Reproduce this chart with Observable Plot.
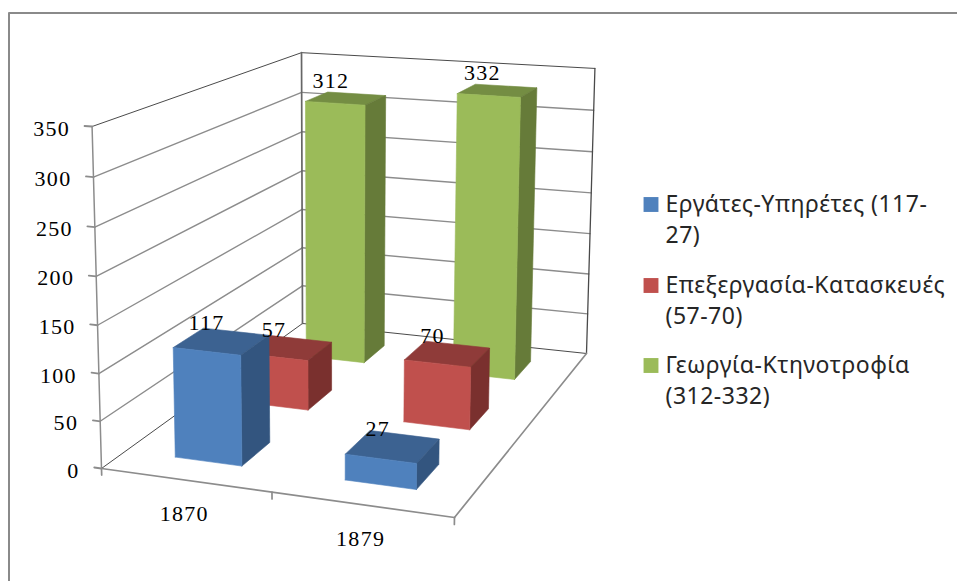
<!DOCTYPE html>
<html lang="el">
<head>
<meta charset="utf-8">
<script src="https://cdn.jsdelivr.net/npm/d3@7"></script>
<script src="https://cdn.jsdelivr.net/npm/@observablehq/plot@0.6"></script>
<style>
html,body{margin:0;padding:0;background:#fff;overflow:hidden}
svg{display:block}
.num text{letter-spacing:1.3px}
.leg text{letter-spacing:.5px}
</style>
</head>
<body>
<div id="chart"></div>
<script>
// --- data ---
const categories = ["1870", "1879"];
const seriesNames = ["Εργάτες-Υπηρέτες (117-27)", "Επεξεργασία-Κατασκευές (57-70)", "Γεωργία-Κτηνοτροφία (312-332)"];
const workers = [117, 27];
const crafts = [57, 70];
const farming = [312, 332];
const valueTicks = [0, 50, 100, 150, 200, 250, 300, 350];
const legendLines = [["Εργάτες-Υπηρέτες (117-", "27)"], ["Επεξεργασία-Κατασκευές", "(57-70)"], ["Γεωργία-Κτηνοτροφία", "(312-332)"]];

// --- styles ---
const frontColors = ["#4f81bd", "#c0504d", "#9bbb59"];
const topColors = ["#3c6291", "#8f3b39", "#748d43"];
const sideColors = ["#33557f", "#7a302e", "#667b39"];
const maxValue = 350;
const gap = 1.5; // gap width / gap depth of the 3-D column chart

// --- camera: projects (u along categories, v in depth, h in height) to the page ---
const cam = {a:323.1,b:283.6,k:-13,c:101, d:15,e:-56.7,n:-346.9,f:468, g:-0.0658,i:0.2735,m:-0.039};
function project(u, v, h) {
  const w = cam.g*u + cam.i*v + cam.m*h + 1;
  return {x:(cam.a*u + cam.b*v + cam.k*h + cam.c)/w, y:(cam.d*u + cam.e*v + cam.n*h + cam.f)/w};
}
const values = [workers, crafts, farming];
const nC = categories.length, nS = seriesNames.length;
const uRange = i => {const s = 1/nC, b = s/(1+gap), c = (i+.5)*s; return [c-b/2, c+b/2];};
const vRange = j => {const s = 1/nS, b = s/(1+gap), c = (j+.5)*s; return [c-b/2, c+b/2];};

const poly = (pts, fill) => Plot.line([...pts, pts[0]], {x:"x", y:"y", fill, stroke:fill, strokeWidth:0.6});
const seg = (p, q, stroke, strokeWidth) => Plot.line([p, q], {x:"x", y:"y", stroke, strokeWidth});

const walls = [];
const gridColor = "#8c8c8c", edgeColor = "#4a4a4a";
for (const t of valueTicks) {
  const h = t/maxValue;
  const isTop = t === maxValue, isBase = t === 0;
  walls.push(seg(project(0,0,h), project(0,1,h), isTop||isBase ? edgeColor : gridColor, isTop||isBase ? 1 : 1.4));
  walls.push(seg(project(0,1,h), project(1,1,h), isTop||isBase ? edgeColor : gridColor, isTop||isBase ? 1 : 1.4));
  walls.push(seg(project(-0.022,0,h), project(0,0,h), gridColor, 1.8));
}
walls.push(seg(project(0,0,0), project(0,0,1), gridColor, 1.5));
walls.push(seg(project(0,1,0), project(0,1,1), "#666", 1.7));
walls.push(seg(project(1,1,0), project(1,1,1), edgeColor, 1.3));
walls.push(seg(project(0,0,0), project(1,0,0), gridColor, 1.7));
walls.push(seg(project(1,0,0), project(1,1,0), gridColor, 1.7));
for (const u of [0, .5, 1]) walls.push(seg(project(u,0,0), project(u,0,-0.02), gridColor, 1.7));

const bars = [];
for (let j = nS-1; j >= 0; j--) {
  for (let i = 0; i < nC; i++) {
    const [u0,u1] = uRange(i), [v0,v1] = vRange(j), h = values[j][i]/maxValue;
    bars.push(poly([project(u0,v0,h),project(u1,v0,h),project(u1,v1,h),project(u0,v1,h)], topColors[j]));
    bars.push(poly([project(u1,v0,0),project(u1,v1,0),project(u1,v1,h),project(u1,v0,h)], sideColors[j]));
    bars.push(poly([project(u0,v0,0),project(u1,v0,0),project(u1,v0,h),project(u0,v0,h)], frontColors[j]));
  }
}

const dataLabels = [];
values.forEach((vals, j) => vals.forEach((val, i) => {
  const [u0,u1] = uRange(i), [v0,v1] = vRange(j);
  dataLabels.push({...project((u0+u1)/2,(v0+v1)/2,val/maxValue), text:String(val)});
}));
const tickLabels = valueTicks.map(t => ({...project(0,0,t/maxValue), text:String(t)}));
const catLabels = categories.map((c,i) => ({...project((i+.5)/nC,0,0), text:c}));

const legendX = 643, swatchY = [204, 285, 365], lineGap = 31;
const legendRows = legendLines.flatMap((ls,j) => ls.map((text,k) => ({x:legendX+22, y:swatchY[j]+k*lineGap, text})));
const swatches = swatchY.map((y,j) => ({x:legendX+7.5, y, c:frontColors[j]}));
const frame = [{x:8.5,y:581},{x:8.5,y:12.5},{x:957,y:12.5}];

const serif = "'Liberation Serif','Times New Roman',serif";
const plot = Plot.plot({
  width:957, height:581, margin:0,
  x:{domain:[0,957], range:[0,957], axis:null},
  y:{domain:[0,581], range:[0,581], axis:null},
  marks:[
    Plot.line(frame, {x:"x", y:"y", stroke:"#8a8a8a", strokeWidth:2}),
    ...walls,
    ...bars,
    Plot.text(dataLabels, {x:"x", y:"y", text:"text", dx:-15, dy:-18, fontSize:22, fontFamily:serif, fill:"#000", className:"num"}),
    Plot.text(tickLabels, {x:"x", y:"y", text:"text", dx:-22, dy:2, textAnchor:"end", fontSize:22, fontFamily:serif, fill:"#000", className:"num"}),
    Plot.text(catLabels, {x:"x", y:"y", text:"text", dx:-1, dy:34, fontSize:22, fontFamily:serif, fill:"#000", className:"num"}),
    Plot.dot(swatches, {x:"x", y:"y", symbol:"square", r:8.4, fill:"c", stroke:"none"}),
    Plot.text(legendRows, {x:"x", y:"y", text:"text", textAnchor:"start", fontSize:23, fontFamily:"'Noto Sans',sans-serif", fill:"#262626", className:"leg"})
  ]
});
document.getElementById("chart").append(plot);
</script>
</body>
</html>
